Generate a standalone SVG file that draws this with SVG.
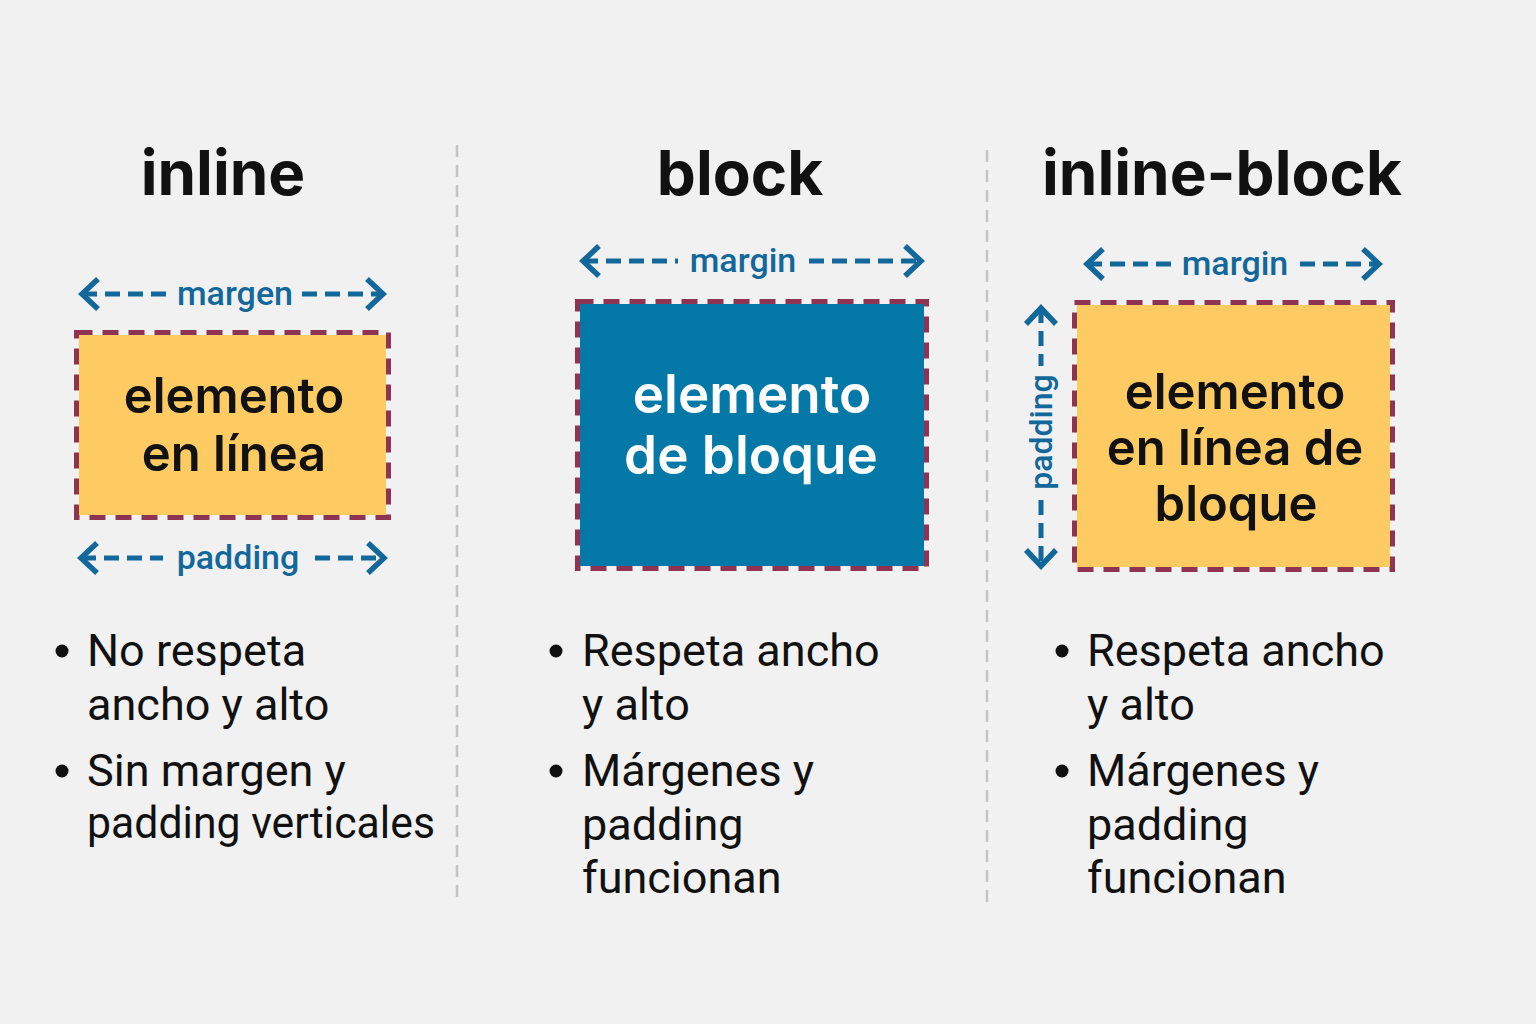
<svg xmlns="http://www.w3.org/2000/svg" width="1536" height="1024" viewBox="0 0 1536 1024">
<style>
.title{font-family:Inter,"Liberation Sans",sans-serif;font-weight:700;font-size:62px;fill:#111;text-anchor:middle}
.box-text{font-family:Inter,"Liberation Sans",sans-serif;font-weight:600;font-size:49px;text-anchor:middle}
.big{font-size:53px}
.lbl{font-family:Roboto,"Liberation Sans",sans-serif;font-weight:500;font-size:34px;fill:#12689b;text-anchor:middle}
.vlbl{font-size:32px}
.bullet{font-family:Roboto,"Liberation Sans",sans-serif;font-size:45px;fill:#111}
.dot{fill:#111}
.border{fill:none;stroke:#8e3352;stroke-width:5;stroke-dasharray:16 10}
.dim{stroke:#12689b;stroke-width:5;stroke-dasharray:15 8;fill:none}
.div{stroke:#c4c4c4;stroke-width:2.5;stroke-dasharray:12 8}
</style>
<defs>
<marker id="ah" viewBox="0 0 24 36" refX="20" refY="18" markerWidth="24" markerHeight="36" markerUnits="userSpaceOnUse" orient="auto-start-reverse">
<path d="M4,3 L20,18 L4,33" fill="none" stroke="#12689b" stroke-width="5.5"/>
</marker>
</defs>
<rect width="1536" height="1024" fill="#f1f1f1"/>
<g id="dividers">
<line class="div" x1="457" y1="145" x2="457" y2="902"/>
<line class="div" x1="987" y1="150" x2="987" y2="902"/>
</g>
<g id="col-inline">
<text class="title" x="223" y="195">inline</text>
<rect x="79" y="335" width="307" height="180" fill="#fdcb62"/>
<rect class="border" x="76.5" y="332.5" width="312" height="185"/>
<text class="box-text" x="234" y="413" fill="#111">elemento</text>
<text class="box-text" x="234" y="471" fill="#111">en línea</text>
<circle class="dot" cx="62" cy="651" r="6.5"/>
<text class="bullet" x="87" y="666">No respeta</text>
<text class="bullet" x="87" y="720">ancho y alto</text>
<circle class="dot" cx="62" cy="771" r="6.5"/>
<text class="bullet" x="87" y="786">Sin margen y</text>
<text class="bullet" x="87" y="838" textLength="348" lengthAdjust="spacingAndGlyphs">padding verticales</text>
</g>
<g id="col-block">
<text class="title" x="740" y="195">block</text>
<rect x="580" y="304" width="344" height="262" fill="#0479a8"/>
<rect class="border" x="577.5" y="301.5" width="349" height="267"/>
<text class="box-text big" x="752" y="413" fill="#fff">elemento</text>
<text class="box-text big" x="751" y="474" fill="#fff">de bloque</text>
<circle class="dot" cx="556" cy="651" r="6.5"/>
<text class="bullet" x="582" y="666">Respeta ancho</text>
<text class="bullet" x="582" y="720">y alto</text>
<circle class="dot" cx="556" cy="771" r="6.5"/>
<text class="bullet" x="582" y="786">Márgenes y</text>
<text class="bullet" x="582" y="840">padding</text>
<text class="bullet" x="582" y="893">funcionan</text>
</g>
<g id="col-inline-block">
<text class="title" x="1222" y="195">inline-block</text>
<rect x="1077" y="305" width="313" height="262" fill="#fdcb62"/>
<rect class="border" x="1074.5" y="302.5" width="318" height="267"/>
<text class="box-text" x="1235" y="409" fill="#111">elemento</text>
<text class="box-text" x="1235" y="465" fill="#111">en línea de</text>
<text class="box-text" x="1236" y="521" fill="#111">bloque</text>
<circle class="dot" cx="1062" cy="651" r="6.5"/>
<text class="bullet" x="1087" y="666">Respeta ancho</text>
<text class="bullet" x="1087" y="720">y alto</text>
<circle class="dot" cx="1062" cy="771" r="6.5"/>
<text class="bullet" x="1087" y="786">Márgenes y</text>
<text class="bullet" x="1087" y="840">padding</text>
<text class="bullet" x="1087" y="893">funcionan</text>
</g>
<g id="connectors">
<line class="dim" x1="82" y1="294" x2="168" y2="294" marker-start="url(#ah)"/>
<line class="dim" x1="302" y1="294" x2="383" y2="294" marker-end="url(#ah)"/>
<text class="lbl" x="235" y="305">margen</text>
<line class="dim" x1="81" y1="558" x2="163" y2="558" marker-start="url(#ah)"/>
<line class="dim" x1="315" y1="558" x2="384" y2="558" marker-end="url(#ah)"/>
<text class="lbl" x="238" y="569">padding</text>
<line class="dim" x1="583" y1="261" x2="678" y2="261" marker-start="url(#ah)"/>
<line class="dim" x1="809" y1="261" x2="921" y2="261" marker-end="url(#ah)"/>
<text class="lbl" x="743" y="272">margin</text>
<line class="dim" x1="1087" y1="264" x2="1173" y2="264" marker-start="url(#ah)"/>
<line class="dim" x1="1300" y1="264" x2="1379" y2="264" marker-end="url(#ah)"/>
<text class="lbl" x="1235" y="275">margin</text>
<line class="dim" x1="1041" y1="308" x2="1041" y2="366" marker-start="url(#ah)"/>
<line class="dim" x1="1041" y1="500" x2="1041" y2="566" marker-end="url(#ah)"/>
<text class="lbl vlbl" transform="translate(1052,432) rotate(-90)" x="0" y="0">padding</text>
</g>
</svg>
